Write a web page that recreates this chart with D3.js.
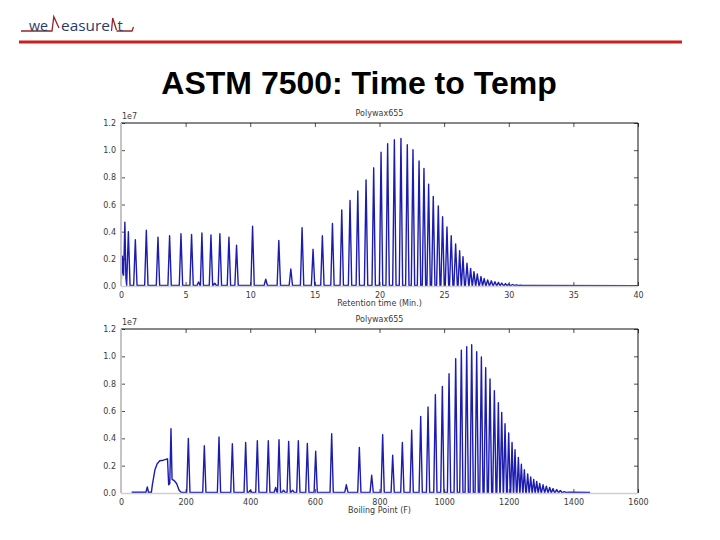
<!DOCTYPE html>
<html>
<head>
<meta charset="utf-8">
<script src="https://cdn.jsdelivr.net/npm/d3@7"></script>
<style>
  body { margin: 0; background: #fff; }
  svg { display: block; }
</style>
</head>
<body>
<div id="slide"></div>
<script>
// ---- data (heights in units of 1e7) ----

// top chart: retention time (min)
const rtStartX = [0, 0.03, 0.07, 0.11, 0.15, 0.2, 0.3, 0.38, 0.44];
const rtStartY = [0.005, 0.05, 0.15, 0.22, 0.1, 0.08, 0.47, 0.06, 0.01];
const rtPeakX = [0.57, 1.11, 1.96, 2.86, 3.76, 4.64, 5.46, 6.0, 6.26, 6.96, 7.25, 7.65, 8.35, 8.94,
  10.18, 11.2, 12.21, 13.14, 14.01, 14.86, 15.58, 16.36, 17.08, 17.72, 18.32, 18.96, 19.55,
  20.12, 20.63, 21.15, 21.66, 22.15, 22.59, 23.06, 23.44, 23.80, 24.16, 24.55, 24.88, 25.22,
  25.55, 25.89, 26.20, 26.46, 26.77, 27.05, 27.31, 27.57, 27.85, 28.1, 28.37, 28.65, 28.93,
  29.2, 29.46, 29.75, 30.0, 30.3, 30.6, 30.9];
const rtPeakY = [0.40, 0.34, 0.41, 0.36, 0.37, 0.385, 0.38, 0.03, 0.39, 0.375, 0.02, 0.385, 0.36, 0.30,
  0.44, 0.05, 0.335, 0.125, 0.43, 0.27, 0.37, 0.46, 0.56, 0.63, 0.70, 0.78, 0.87,
  0.985, 1.047, 1.077, 1.087, 1.04, 1.003, 0.92, 0.865, 0.75, 0.66, 0.59, 0.51, 0.435,
  0.37, 0.31, 0.26, 0.216, 0.167, 0.13, 0.106, 0.088, 0.07, 0.055, 0.045, 0.038, 0.032,
  0.027, 0.022, 0.018, 0.014, 0.011, 0.008, 0.005];
const rtEndX = [31.5, 40];
const rtEndY = [0.004, 0.003];

// bottom chart: boiling point (F)
const bpStartX = [33, 77, 81.5, 85, 94, 97, 100, 105, 112, 120, 131, 144, 147.5, 151, 154.7, 158, 165, 172, 180, 186];
const bpStartY = [0.005, 0.005, 0.044, 0.005, 0.005, 0.06, 0.1, 0.17, 0.214, 0.236, 0.24, 0.25, 0.06, 0.07, 0.47, 0.1, 0.09, 0.07, 0.02, 0.005];
const bpPeakX = [208.4, 257.9, 303.3, 344.6, 385.8, 400, 421.9, 455.9, 478.6, 489, 503, 518.9, 531,
  548.8, 576.7, 602.5, 652, 697.4, 737.6, 775.8, 809.8, 840.8, 870.7, 899.6, 927.5, 950.2,
  972.9, 994.5, 1015.2, 1035.8, 1053.3, 1069.9, 1085.3, 1100.8, 1115.3, 1128.6, 1142, 1155.5,
  1167.8, 1178.2, 1188.5, 1199.8, 1210.2, 1219.4, 1229.8, 1239, 1248.3, 1258.6, 1267.9,
  1277.2, 1286.5, 1295.8, 1306.1, 1316.4, 1326.7, 1337, 1348.4, 1359.7, 1372];
const bpPeakY = [0.40, 0.346, 0.41, 0.36, 0.37, 0.02, 0.383, 0.383, 0.04, 0.39, 0.02, 0.378, 0.02,
  0.383, 0.363, 0.305, 0.434, 0.06, 0.334, 0.13, 0.427, 0.276, 0.37, 0.46, 0.56, 0.63,
  0.72, 0.78, 0.873, 0.983, 1.044, 1.07, 1.085, 1.034, 0.995, 0.917, 0.834, 0.749,
  0.66, 0.59, 0.507, 0.44, 0.37, 0.317, 0.26, 0.21, 0.17, 0.14, 0.117,
  0.1, 0.085, 0.07, 0.06, 0.05, 0.04, 0.032, 0.025, 0.018, 0.01];
const bpEndX = [1390, 1452];
const bpEndY = [0.006, 0.004];

const yTicks = [0, 0.2, 0.4, 0.6, 0.8, 1.0, 1.2];
const rtTicks = [0, 5, 10, 15, 20, 25, 30, 35, 40];
const bpTicks = [0, 200, 400, 600, 800, 1000, 1200, 1400, 1600];

const titleText = "ASTM 7500: Time to Temp";
const chartTitle = "Polywax655";

// ---- drawing ----
const W = 720, H = 540;
const svg = d3.select("#slide").append("svg").attr("width", W).attr("height", H);

// logo (M and I drawn as little peaks)
const logo = svg.append("g");
const logoFont = "Open Sans", logoCol = "#2b3b68";
logo.append("path")
  .attr("d", "M21,31 H52 L53.8,16.7 L59,28 M111.5,31 L112.7,18 L116.5,30 M116.5,31 H132 L133.5,27")
  .attr("fill", "none").attr("stroke", "#96242b").attr("stroke-width", 1.3);
logo.append("text").attr("x", 29).attr("y", 30.5).text("we")
  .attr("font-family", logoFont).attr("font-size", 15).attr("fill", logoCol)
  .attr("textLength", 19).attr("lengthAdjust", "spacingAndGlyphs");
logo.append("text").attr("x", 61).attr("y", 30.5).text("easure")
  .attr("font-family", logoFont).attr("font-size", 15).attr("fill", logoCol)
  .attr("textLength", 49).attr("lengthAdjust", "spacingAndGlyphs");
logo.append("text").attr("x", 117.5).attr("y", 30.5).text("t")
  .attr("font-family", logoFont).attr("font-size", 15).attr("fill", logoCol);
svg.append("rect").attr("x", 19).attr("y", 40.5).attr("width", 663).attr("height", 3).attr("fill", "#cc1f1f");

svg.append("text")
  .attr("x", 359).attr("y", 94)
  .attr("text-anchor", "middle")
  .attr("font-family", "Liberation Sans, Arial")
  .attr("font-weight", "bold")
  .attr("font-size", 32)
  .attr("fill", "#000")
  .text(titleText);

// build the trace points: free points plus a spike for every peak
function buildTrace(sx, sy, px, py, ex, ey, halfW) {
  const pts = sx.map((x, i) => [x, sy[i]]);
  px.forEach((x, i) => {
    const gapL = i > 0 ? x - px[i - 1] : halfW * 3;
    const gapR = i < px.length - 1 ? px[i + 1] - x : halfW * 3;
    const w = Math.min(halfW, gapL * 0.45, gapR * 0.45);
    pts.push([x - w, 0.004], [x, py[i]], [x + w, 0.004]);
  });
  ex.forEach((x, i) => pts.push([x, ey[i]]));
  return pts.sort((a, b) => a[0] - b[0]);
}

function drawPanel(cfg) {
  const { left, right, top, bottom } = cfg;
  const g = svg.append("g");
  const x = d3.scaleLinear().domain(cfg.xDomain).range([left, right]);
  const y = d3.scaleLinear().domain([0, 1.2]).range([bottom, top]);

  const font = "DejaVu Sans";
  const labCol = "#3a3a3a";

  // trace
  const line = d3.line().x(d => x(d[0])).y(d => y(d[1]));
  g.append("path")
    .attr("d", line(cfg.points))
    .attr("fill", "none")
    .attr("stroke", "#1c1cb0")
    .attr("stroke-width", 1.4)
    .attr("stroke-linejoin", "round");

  // axes (ticks inward, mpl style)
  const axB = g.append("g").attr("transform", `translate(0,${bottom})`)
    .call(d3.axisBottom(x).tickValues(cfg.xTicks).tickSize(-4).tickPadding(6).tickFormat(d3.format("d")));
  const axT = g.append("g").attr("transform", `translate(0,${top})`)
    .call(d3.axisTop(x).tickValues(cfg.xTicks).tickSize(-4).tickFormat(""));
  const axL = g.append("g").attr("transform", `translate(${left},0)`)
    .call(d3.axisLeft(y).tickValues(yTicks).tickSize(-4).tickPadding(5).tickFormat(d3.format(".1f")));
  const axR = g.append("g").attr("transform", `translate(${right},0)`)
    .call(d3.axisRight(y).tickValues(yTicks).tickSize(-4).tickFormat(""));
  [axB, axT, axL, axR].forEach(a => {
    a.select(".domain").remove();
    a.selectAll("line").attr("stroke", "#222").attr("stroke-width", 0.8);
    a.selectAll("text").attr("font-family", font).attr("font-size", 8).attr("fill", labCol);
  });

  // spines
  g.append("line").attr("x1", left).attr("x2", right).attr("y1", top).attr("y2", top)
    .attr("stroke", "#111").attr("stroke-width", 1);
  g.append("line").attr("x1", right).attr("x2", right).attr("y1", top).attr("y2", bottom)
    .attr("stroke", "#111").attr("stroke-width", 1);
  g.append("line").attr("x1", left).attr("x2", left).attr("y1", top).attr("y2", bottom)
    .attr("stroke", "#c4c4c4").attr("stroke-width", 2);
  g.append("line").attr("x1", left).attr("x2", right).attr("y1", bottom + 0.5).attr("y2", bottom + 0.5)
    .attr("stroke", "#d0d0d0").attr("stroke-width", 1.5);

  // texts
  g.append("text").attr("x", left + 1).attr("y", top - 4).text("1e7")
    .attr("font-family", font).attr("font-size", 8).attr("fill", labCol);
  g.append("text").attr("x", (left + right) / 2).attr("y", top - 7).attr("text-anchor", "middle")
    .text(chartTitle).attr("font-family", font).attr("font-size", 8).attr("fill", labCol);
  g.append("text").attr("x", (left + right) / 2).attr("y", bottom + 20).attr("text-anchor", "middle")
    .text(cfg.xLabel).attr("font-family", font).attr("font-size", 8).attr("fill", labCol);
}

drawPanel({
  left: 121, right: 638, top: 123, bottom: 286,
  xDomain: [0, 40], xTicks: rtTicks,
  xLabel: "Retention time (Min.)",
  points: buildTrace(rtStartX, rtStartY, rtPeakX, rtPeakY, rtEndX, rtEndY, 0.13)
});

drawPanel({
  left: 121, right: 638, top: 329, bottom: 493,
  xDomain: [0, 1600], xTicks: bpTicks,
  xLabel: "Boiling Point (F)",
  points: buildTrace(bpStartX, bpStartY, bpPeakX, bpPeakY, bpEndX, bpEndY, 5)
});
</script>
</body>
</html>
